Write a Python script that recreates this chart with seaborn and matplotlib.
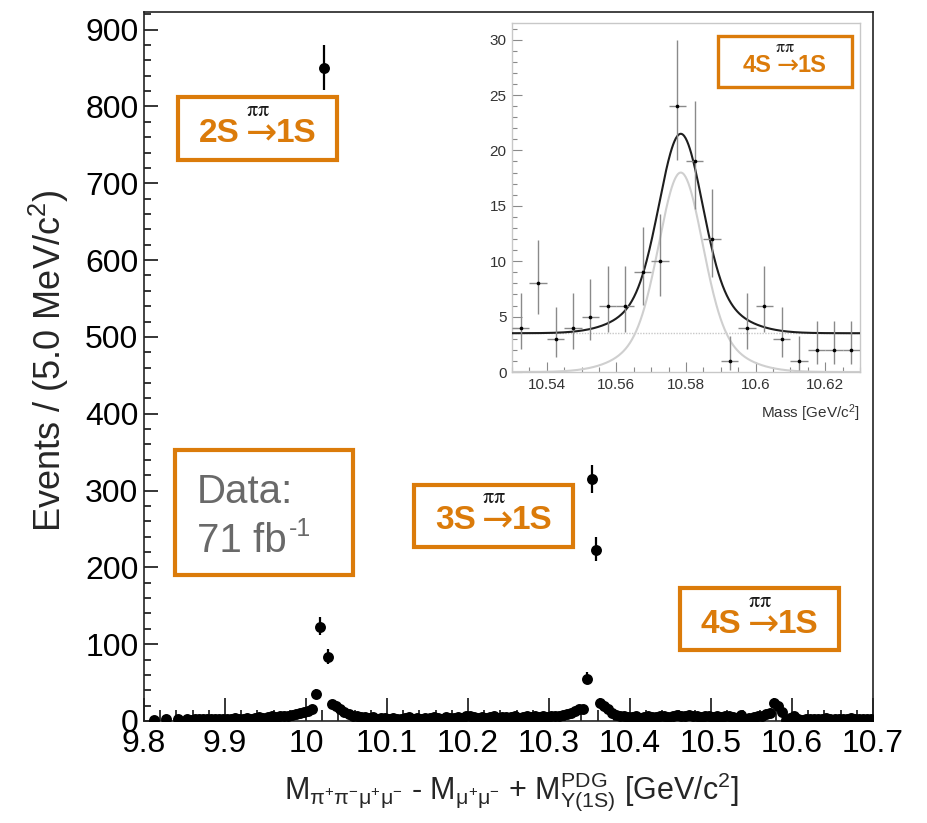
import numpy as np
import pandas as pd
import matplotlib
matplotlib.use("Agg")
import matplotlib.pyplot as plt
import matplotlib.ticker as mticker
from matplotlib.patches import Rectangle
import seaborn as sns

# ---------------- data ----------------
bin_width = 0.005            # GeV per bin
main_x_start = 9.80          # lower edge of first bin of main histogram
main_counts = [
    np.nan, np.nan, 1, np.nan, np.nan, 2, np.nan, np.nan, 2, np.nan,
    2, 1, 3, 2, 2, 3, 2, 3, 2, 3,
    3, 2, 4, 3, 3, 4, 2, 4, 5, 4,
    5, 6, 5, 6, 7, 6, 8, 9, 11, 12,
    13, 15, 35, 123, 850, 83, 22, 20, 16, 12,
    9, 7, 6, 5, 5, 4, 5, 3, 4, 4,
    3, 4, 3, 3, 4, 5, 3, 4, 3, 4,
    4, 5, 4, 3, 5, 4, 4, 5, 4, 6,
    7, 5, 4, 5, 4, 5, 6, 4, 5, 5,
    5, 6, 4, 5, 6, 5, 7, 5, 6, 5,
    6, 6, 7, 8, 9, 11, 13, 15, 16, 55,
    315, 223, 24, 19, 15, 11, 8, 7, 6, 5,
    5, 6, 4, 5, 6, 5, 5, 6, 7, 5,
    6, 8, 7, 6, 8, 7, 6, 5, 6, 7,
    5, 6, 5, 7, 6, 5, 4, 8, 3, 4,
    5, 6, 6, 9, 10, 24, 19, 12, 1, 4,
    6, 3, 1, 2, 2, 2, 3, 2, 4, 3,
    2, 3, 3, 2, 4, 2, 3, 2, 3, 2,
]
main_xticks = [9.8, 9.9, 10.0, 10.1, 10.2, 10.3, 10.4, 10.5, 10.6, 10.7]
main_yticks = [0, 100, 200, 300, 400, 500, 600, 700, 800, 900]

inset_x_start = 10.53
inset_counts = [4, 8, 3, 4, 5, 6, 6, 9, 10, 24, 19, 12, 1, 4, 6, 3, 1, 2, 2, 2]
inset_xticks = [10.54, 10.56, 10.58, 10.6, 10.62]
inset_yticks = [0, 5, 10, 15, 20, 25, 30]

# fit model parameters (inset)
fit_bkg = 3.5
fit_mean = 10.5785
fit_core_amp, fit_core_sigma = 14.0, 0.0060
fit_tail_amp, fit_tail_sigma = 4.0, 0.0120

ORANGE = "#DB7B0A"

# ---------------- helpers ----------------
def poisson_err(n):
    n = np.asarray(n, dtype=float)
    with np.errstate(invalid="ignore", divide="ignore"):
        lo = np.where(n > 0, n * (1 - 1 / (9 * n) - 1 / (3 * np.sqrt(n))) ** 3, 0.0)
        up = (n + 1) * (1 - 1 / (9 * (n + 1)) + 1 / (3 * np.sqrt(n + 1))) ** 3
    return n - lo, up - n

W, H = 928, 823
def fbox(l, t, r, b):
    return [l / W, 1 - b / H, (r - l) / W, (b - t) / H]
def fx(px):
    return px / W
def fy(py):
    return 1 - py / H

sns.set_style("ticks")
plt.rcParams["font.family"] = ["Liberation Sans", "DejaVu Sans"]
plt.rcParams["mathtext.fontset"] = "custom"
plt.rcParams["mathtext.rm"] = "Liberation Sans"
plt.rcParams["mathtext.it"] = "Liberation Sans:italic"
plt.rcParams["mathtext.bf"] = "Liberation Sans:bold"

fig = plt.figure(figsize=(W / 100, H / 100), dpi=100)
renderer = fig.canvas.get_renderer()

# ---------------- main plot ----------------
main_x = main_x_start + bin_width * (np.arange(len(main_counts)) + 0.5)
main_y = np.array(main_counts, dtype=float)
df_main = pd.DataFrame({"mass": main_x, "events": main_y}).dropna()
elo, ehi = poisson_err(df_main["events"].values)

ax = fig.add_axes(fbox(144, 12, 873, 721))
ax.errorbar(df_main["mass"], df_main["events"], xerr=bin_width / 2, yerr=[elo, ehi],
            fmt="none", ecolor="black", elinewidth=1.6, capsize=0, zorder=2)
sns.scatterplot(data=df_main, x="mass", y="events", ax=ax, color="black", s=62,
                linewidth=0, zorder=3, legend=False)
ax.set_xlim(9.8, 10.7)
ax.set_ylim(0, 923)
ax.xaxis.set_major_locator(mticker.FixedLocator(main_xticks))
ax.xaxis.set_minor_locator(mticker.MultipleLocator(0.02))
ax.yaxis.set_major_locator(mticker.FixedLocator(main_yticks))
ax.yaxis.set_minor_locator(mticker.MultipleLocator(20))
ax.xaxis.set_major_formatter(mticker.FuncFormatter(lambda v, p: f"{v:g}"))
ax.tick_params(which="both", direction="in", top=False, right=False, colors="black",
               labelsize=23)
ax.tick_params(axis="x", which="major", length=16.5, width=1.1, pad=6)
ax.tick_params(axis="x", which="minor", length=8, width=1.1)
ax.tick_params(axis="y", which="major", length=10, width=1.1, pad=4)
ax.tick_params(axis="y", which="minor", length=5, width=1.1)
for sp in ax.spines.values():
    sp.set_visible(True)
    sp.set_linewidth(1.2)
    sp.set_color("#222222")

ax.set_ylabel("Events / (5.0 MeV/c$^{2}$)", fontsize=26)
ax.yaxis.label.set_va("center")
ax.yaxis.set_label_coords((49 - 144) / 729, 0.508)
ax.set_xlabel(r"M$_{\mathrm{\pi^{+}\pi^{-}\mu^{+}\mu^{-}}}$ - M$_{\mathrm{\mu^{+}\mu^{-}}}$"
              r" + M$^{\mathrm{PDG}}_{\Upsilon\mathrm{(1S)}}$ [GeV/c$^{2}$]", fontsize=22)
ax.xaxis.label.set_va("center")
ax.xaxis.set_label_coords((512 - 144) / 729, (721 - 792) / 709)

# ---------------- boxes with labels ----------------
def orange_box(l, t, r, b, lw=3.0):
    fig.patches.append(Rectangle((fx(l), fy(b)), (r - l) / W, (b - t) / H,
                                 transform=fig.transFigure, fill=False,
                                 edgecolor=ORANGE, linewidth=lw, zorder=10))

def transition_label(cx, base, left, right, size, arrow_size, half_gap, pipi_size,
                     pipi_rise):
    fig.text(fx(cx - half_gap), fy(base), left, color=ORANGE, fontsize=size,
             fontweight="bold", ha="right", va="baseline", zorder=11)
    fig.text(fx(cx), fy(base), r"$\rightarrow$", color=ORANGE, fontsize=arrow_size,
             math_fontfamily="dejavusans", ha="center", va="baseline", zorder=11)
    fig.text(fx(cx + half_gap), fy(base), right, color=ORANGE, fontsize=size,
             fontweight="bold", ha="left", va="baseline", zorder=11)
    fig.text(fx(cx), fy(base - pipi_rise), r"$\mathrm{\pi\pi}$", color="#1a1a1a",
             fontsize=pipi_size, math_fontfamily="stix", ha="center",
             va="baseline", zorder=12)

orange_box(178, 97, 337, 160)
transition_label(257.5, 142, "2S", "1S", 24, 27, 18, 16, 26)

orange_box(414, 485, 573, 547)
transition_label(493.5, 529, "3S", "1S", 24, 27, 18, 16, 26)

orange_box(680, 588, 839, 650)
transition_label(759.5, 633, "4S", "1S", 24, 27, 18, 16, 26)

orange_box(175, 450, 353, 575)
fig.text(fx(197), fy(503), "Data:", color="#696969", fontsize=29, ha="left",
         va="baseline", zorder=11)
t71 = fig.text(fx(197), fy(552), "71 fb", color="#696969", fontsize=29, ha="left",
               va="baseline", zorder=11)
bb71 = t71.get_window_extent(renderer)
fig.text((bb71.x1 + 2) / W, fy(536), "-1", color="#696969", fontsize=18, ha="left",
         va="baseline", zorder=11)

# ---------------- inset ----------------
iax = fig.add_axes(fbox(512, 23, 860, 372))
iax.set_facecolor("white")
ins_x = inset_x_start + bin_width * (np.arange(len(inset_counts)) + 0.5)
ins_y = np.array(inset_counts, dtype=float)
ilo, ihi = poisson_err(ins_y)
df_ins = pd.DataFrame({"mass": ins_x, "events": ins_y})

curve_x = np.linspace(10.53, 10.63, 500)
signal = (fit_core_amp * np.exp(-0.5 * ((curve_x - fit_mean) / fit_core_sigma) ** 2)
          + fit_tail_amp * np.exp(-0.5 * ((curve_x - fit_mean) / fit_tail_sigma) ** 2))
total = signal + fit_bkg
df_curve = pd.DataFrame({"mass": curve_x, "signal": signal, "total": total,
                         "bkg": np.full_like(curve_x, fit_bkg)})

sns.lineplot(data=df_curve, x="mass", y="bkg", ax=iax, color="#c8c8c8", linewidth=1.0,
             linestyle=(0, (1, 1)), estimator=None, zorder=1)
sns.lineplot(data=df_curve, x="mass", y="signal", ax=iax, color="#cfcfcf", linewidth=1.5,
             estimator=None, zorder=2)
sns.lineplot(data=df_curve, x="mass", y="total", ax=iax, color="#1e1e1e", linewidth=1.5,
             estimator=None, zorder=3)
iax.errorbar(df_ins["mass"], df_ins["events"], xerr=bin_width / 2, yerr=[ilo, ihi],
             fmt="none", ecolor="#8a8a8a", elinewidth=1.0, capsize=0, zorder=4)
sns.scatterplot(data=df_ins, x="mass", y="events", ax=iax, color="black", s=7,
                linewidth=0, zorder=5, legend=False)

iax.set_xlim(10.53, 10.63)
iax.set_ylim(0, 31.5)
iax.xaxis.set_major_locator(mticker.FixedLocator(inset_xticks))
iax.xaxis.set_minor_locator(mticker.MultipleLocator(0.005))
iax.yaxis.set_major_locator(mticker.FixedLocator(inset_yticks))
iax.yaxis.set_minor_locator(mticker.MultipleLocator(1))
iax.xaxis.set_major_formatter(mticker.FuncFormatter(lambda v, p: f"{v:g}"))
iax.tick_params(which="both", direction="in", top=False, right=False,
                color="#8a8a8a", labelcolor="#333333", labelsize=11, width=0.8)
iax.tick_params(which="major", length=7, pad=4)
iax.tick_params(which="minor", length=3.5)
for sp in iax.spines.values():
    sp.set_color("#c8c8c8")
    sp.set_linewidth(1.0)
iax.set_xlabel("")
iax.set_ylabel("")
fig.text(fx(860), fy(418), "Mass [GeV/c$^{2}$]", color="#333333", fontsize=11,
         ha="right", va="baseline")

orange_box(718, 36, 852, 87, lw=2.4)
transition_label(785, 72, "4S", "1S", 17, 19, 13, 13, 20)

fig.savefig("out.png", dpi=100)
